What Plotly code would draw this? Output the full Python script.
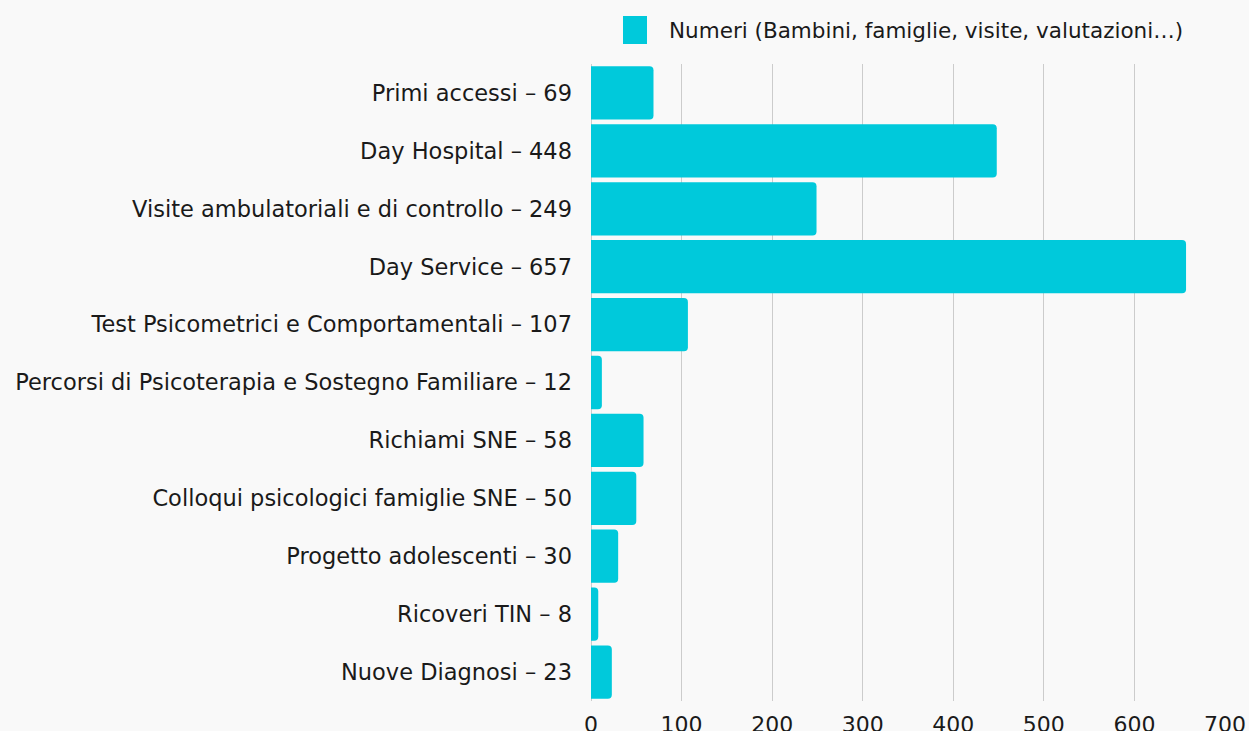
import plotly.graph_objects as go

categories = [
    "Primi accessi",
    "Day Hospital",
    "Visite ambulatoriali e di controllo",
    "Day Service",
    "Test Psicometrici e Comportamentali",
    "Percorsi di Psicoterapia e Sostegno Familiare",
    "Richiami SNE",
    "Colloqui psicologici famiglie SNE",
    "Progetto adolescenti",
    "Ricoveri TIN",
    "Nuove Diagnosi",
]
values = [69, 448, 249, 657, 107, 12, 58, 50, 30, 8, 23]
series_name = "Numeri (Bambini, famiglie, visite, valutazioni…)"
x_ticks = [0, 100, 200, 300, 400, 500, 600, 700]

labels = [f"{c} – {v}" for c, v in zip(categories, values)]

BAR = "#00c9db"
BG = "#f9f9f9"
FONT = "DejaVu Sans, sans-serif"
TXT = "#1a1a1a"

fig = go.Figure()
fig.add_trace(go.Bar(
    x=values, y=labels,
    orientation="h",
    name=series_name,
    marker=dict(color=BAR, cornerradius=4, line=dict(width=0)),
    showlegend=False,
    hoverinfo="skip",
))

# legend drawn by hand: big swatch + text
fig.add_shape(type="rect", xref="paper", yref="paper",
              x0=(623 - 591) / 634, x1=(647 - 591) / 634,
              y0=(701 - 44) / 637, y1=(701 - 16) / 637,
              fillcolor=BAR, line=dict(width=0))
fig.add_annotation(xref="paper", yref="paper",
                   x=(667 - 591) / 634, y=(701 - 30) / 637,
                   xanchor="left", yanchor="middle",
                   text=series_name, showarrow=False,
                   font=dict(size=21.5, color=TXT, family=FONT))

fig.update_layout(
    width=1249, height=731,
    margin=dict(l=591, r=24, t=64, b=30, autoexpand=False),
    paper_bgcolor=BG, plot_bgcolor=BG,
    font=dict(family=FONT, size=22.5, color=TXT),
    bargap=0.08,
    xaxis=dict(
        range=[0, 700],
        tickvals=x_ticks,
        automargin=False,
        showgrid=True, gridcolor="#cccccc", gridwidth=1,
        zeroline=True, zerolinecolor="#cccccc", zerolinewidth=1,
        showline=False,
        ticks="", ticklabelstandoff=8,
        tickfont=dict(size=22),
    ),
    yaxis=dict(
        autorange="reversed",
        automargin=False,
        showgrid=False, zeroline=False, showline=False,
        ticks="", ticklabelstandoff=18,
        tickfont=dict(size=22.5),
    ),
)

fig.write_html("out.html", config={"displayModeBar": False},
               post_script="document.body.style.margin='0';document.body.style.overflow='hidden';")
